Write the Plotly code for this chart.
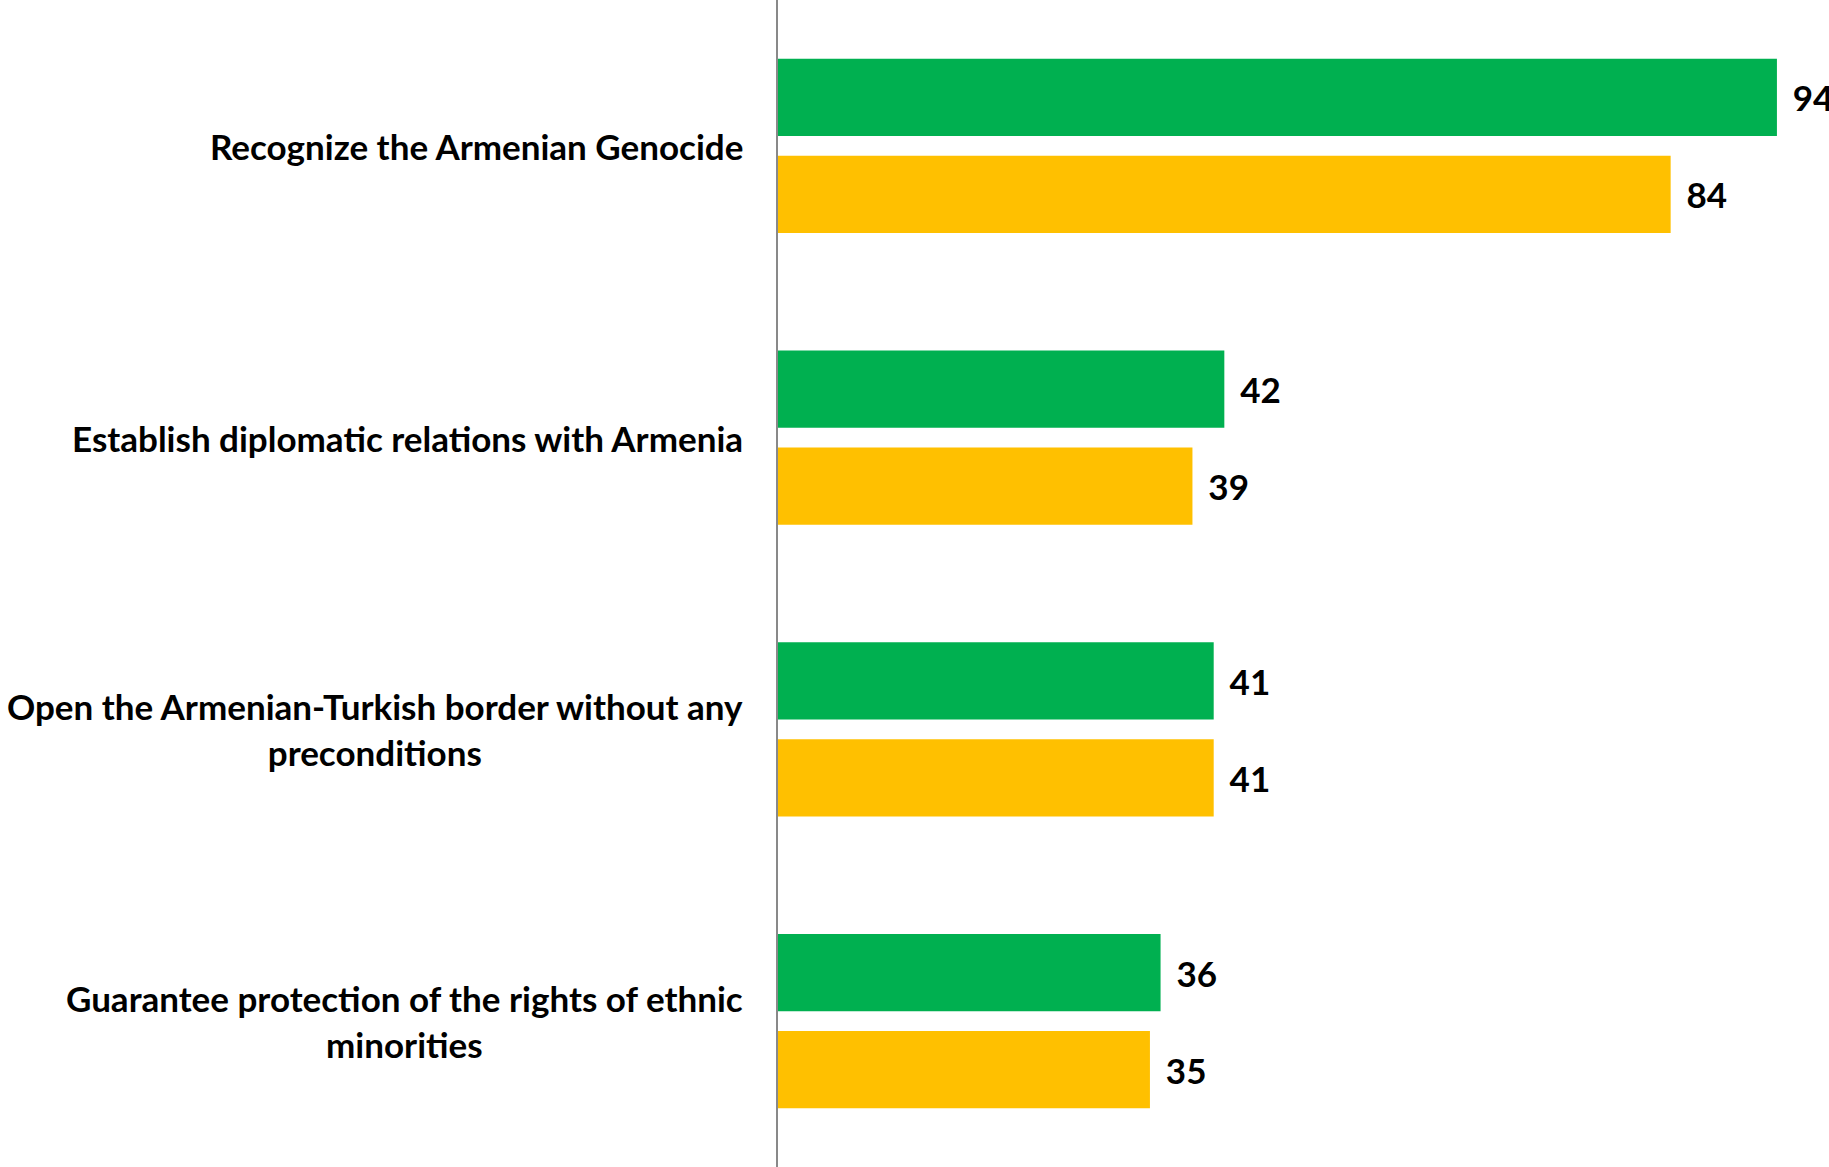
import plotly.graph_objects as go

categories = [
    "Recognize the Armenian Genocide",
    "Establish diplomatic relations with Armenia",
    "Open the Armenian-Turkish border without any<br>preconditions",
    "Guarantee protection of the rights of ethnic<br>minorities",
]
series_green = [94, 42, 41, 36]
series_yellow = [84, 39, 41, 35]

FONT = "Lato"
FS = 35

fig = go.Figure()
fig.add_trace(go.Bar(
    y=categories, x=series_green, orientation="h",
    marker=dict(color="#00B050", line=dict(width=0)),
    text=series_green, texttemplate="\u00a0\u2009%{x}", textposition="outside",
    textfont=dict(family=FONT, size=FS, color="black", weight="bold"),
    cliponaxis=False, showlegend=False,
))
fig.add_trace(go.Bar(
    y=categories, x=series_yellow, orientation="h",
    marker=dict(color="#FFC000", line=dict(width=0)),
    text=series_yellow, texttemplate="\u00a0\u2009%{x}", textposition="outside",
    textfont=dict(family=FONT, size=FS, color="black", weight="bold"),
    cliponaxis=False, showlegend=False,
))

for c in categories:
    fig.add_annotation(
        x=0, xref="paper", y=c, yref="y", text=c, showarrow=False,
        xanchor="right", yanchor="middle", align="center", xshift=-33,
        font=dict(family=FONT, size=FS, color="black", weight="bold"),
    )

fig.update_layout(
    width=1829, height=1167,
    margin=dict(l=778, r=0, t=0, b=0),
    paper_bgcolor="white", plot_bgcolor="white",
    barmode="group", bargap=0.335, bargroupgap=0.206,
    uniformtext=dict(mode=False),
)
fig.update_xaxes(range=[0, 98.9], showticklabels=False, showgrid=False,
                 zeroline=False, showline=False, ticks="")
fig.update_yaxes(range=[3.5, -0.5], showticklabels=False, showgrid=False,
                 zeroline=False, showline=True, linecolor="#898989",
                 linewidth=2, ticks="")

fig.write_html("out.html", config={"displayModeBar": False},
               post_script="document.body.style.margin='0';document.body.style.overflow='hidden';")
